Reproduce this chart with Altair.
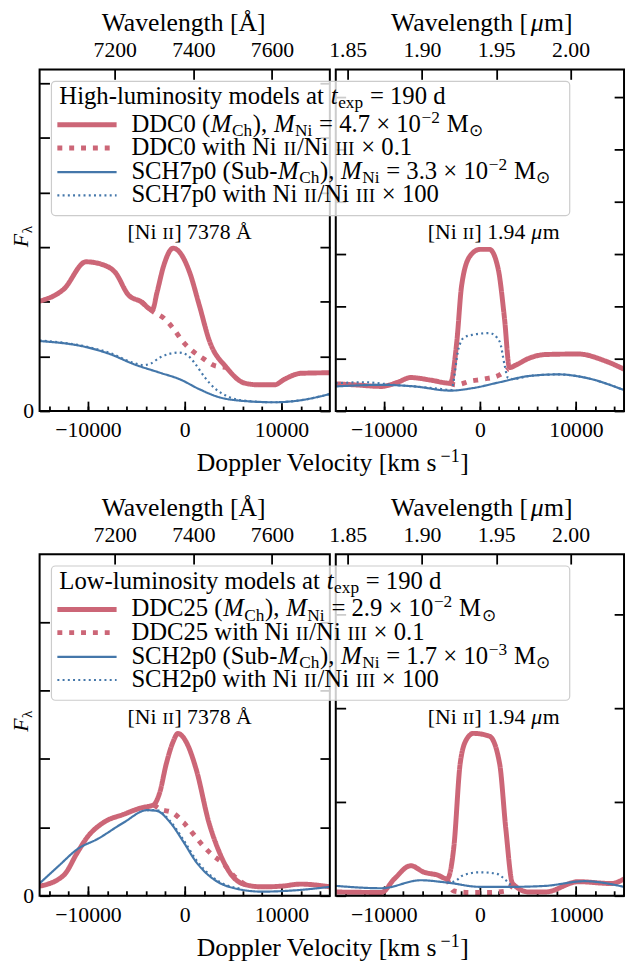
import altair as alt
import pandas as pd

FONT = "Liberation Serif"
RED = "#CC6677"
BLUE = "#4477AA"
C_KMS = 299792.458
VMAX = 15000

# ---------------- data ----------------
# Top-left: [Ni II] 7378 A, high-luminosity models
TL_RS_V = [-15000, -12500, -10200, -8200, -7200, -5800, -4500, -3350, -2850, -2170, -1200, -500, 500, 1500, 2560, 4300, 6200, 7600, 9300, 10300, 12000, 15000]
TL_RS_F = [2.01, 2.23, 2.73, 2.66, 2.54, 2.12, 2.00, 1.85, 2.18, 2.66, 2.98, 2.90, 2.54, 1.94, 1.28, 0.80, 0.51, 0.48, 0.48, 0.58, 0.69, 0.70]
TL_RD_V = [-4500, -3350, -2100, -1100, -240, 800, 2000, 3100, 4300]
TL_RD_F = [2.00, 1.83, 1.69, 1.49, 1.28, 1.10, 0.95, 0.83, 0.80]
TL_BS_V = [-15000, -10200, -7700, -5300, -2550, -500, 1500, 3600, 5700, 9300, 11700, 15000]
TL_BS_F = [1.28, 1.17, 1.04, 0.86, 0.70, 0.58, 0.40, 0.25, 0.19, 0.16, 0.19, 0.31]
TL_BD_V = [-15000, -10200, -7700, -5300, -4300, -3500, -2550, -1500, -600, 300, 1100, 2100, 3200, 4300, 5700, 9300, 11700, 15000]
TL_BD_F = [1.29, 1.18, 1.06, 0.88, 0.84, 0.87, 0.98, 1.05, 1.07, 1.02, 0.86, 0.61, 0.40, 0.28, 0.20, 0.16, 0.19, 0.31]

# Top-right: [Ni II] 1.94 um, high-luminosity models
TR_RS_V = [-15000, -13000, -10250, -8550, -7200, -5100, -3080, -2400, -1900, -1000, 0, 1000, 1900, 2560, 3080, 3760, 5130, 6840, 10250, 13000, 15000]
TR_RS_F = [0.52, 0.50, 0.47, 0.55, 0.64, 0.59, 0.53, 1.33, 2.40, 2.97, 3.09, 3.09, 2.72, 1.77, 0.83, 0.88, 1.01, 1.08, 1.09, 0.96, 0.80]
TR_RD_V = [-3080, -2500, -1000, 400, 2050, 2900]
TR_RD_F = [0.53, 0.50, 0.57, 0.61, 0.69, 0.80]
TR_BS_V = [-15000, -10250, -6800, -3080, -680, 2050, 5130, 8200, 10900, 15000]
TR_BS_F = [0.47, 0.50, 0.47, 0.39, 0.44, 0.55, 0.67, 0.70, 0.64, 0.40]
TR_BD_V = [-15000, -12000, -9000, -6800, -4000, -3000, -2200, -1700, -700, 1000, 2050, 2560, 2900, 3500, 5130, 8200, 10900, 15000]
TR_BD_F = [0.53, 0.55, 0.50, 0.47, 0.42, 0.40, 1.21, 1.40, 1.46, 1.49, 1.33, 0.89, 0.64, 0.61, 0.67, 0.70, 0.64, 0.40]

# Bottom-left: [Ni II] 7378 A, low-luminosity models
BL_RS_V = [-15000, -12500, -11100, -10100, -8400, -6300, -4600, -3200, -2600, -1900, -1200, -700, 140, 1200, 2500, 3600, 4600, 6300, 8000, 10000, 12000, 15000]
BL_RS_F = [0.14, 0.30, 0.63, 0.85, 1.07, 1.19, 1.28, 1.33, 1.50, 1.93, 2.25, 2.37, 2.25, 1.84, 1.07, 0.63, 0.35, 0.16, 0.13, 0.14, 0.17, 0.13]
BL_RD_V = [-3200, -2600, -1200, -120, 900, 1900, 2900, 4000, 5000, 6300]
BL_RD_F = [1.33, 1.27, 1.21, 1.07, 0.90, 0.73, 0.59, 0.47, 0.30, 0.16]
BL_BS_V = [-15000, -13000, -11100, -9000, -6300, -3900, -2900, -1500, -100, 1200, 2900, 4600, 8000, 11500, 15000]
BL_BS_F = [0.18, 0.44, 0.68, 0.83, 1.07, 1.25, 1.24, 1.07, 0.78, 0.49, 0.25, 0.13, 0.06, 0.08, 0.13]
BL_BD_V = [-3900, -2900, -1500, -100, 1200, 2900, 4600, 6000]
BL_BD_F = [1.25, 1.25, 1.09, 0.81, 0.52, 0.27, 0.14, 0.10]

# Bottom-right: [Ni II] 1.94 um, low-luminosity models
BR_RS_V = [-15000, -10250, -8900, -7200, -5800, -4400, -3400, -2700, -2050, -1370, -680, 1000, 2050, 2700, 3400, 5100, 6800, 10250, 13700, 15000]
BR_RS_F = [0.04, 0.035, 0.18, 0.32, 0.25, 0.22, 0.18, 0.53, 1.41, 1.67, 1.73, 1.70, 1.41, 0.71, 0.13, 0.04, 0.04, 0.15, 0.13, 0.18]
BR_RD_V = [-3400, -2700, -1000, 1000, 2700, 3400]
BR_RD_F = [0.18, 0.05, 0.035, 0.035, 0.05, 0.13]
BR_BS_V = [-15000, -10250, -6150, -3400, 0, 3400, 6800, 10900, 15000]
BR_BS_F = [0.105, 0.08, 0.165, 0.14, 0.095, 0.095, 0.105, 0.155, 0.095]
BR_BD_V = [-3400, -2700, -1700, 0, 1700, 2700, 3400]
BR_BD_F = [0.14, 0.15, 0.22, 0.25, 0.235, 0.165, 0.095]

# axis ranges / ticks
Y_MAX = {"TL": 6.25, "TR": 6.53, "BL": 4.99, "BR": 3.64}
Y_NT = {"TL": 6, "TR": 6, "BL": 5, "BR": 3}
LAM0_OPT = 7378.0
LAM0_NIR = 1.939
TICKS_OPT = [7200, 7400, 7600]
TICKS_NIR = [1.85, 1.90, 1.95, 2.00]
V_MAJOR = [-10000, 0, 10000]
V_MINOR = list(range(-14000, 15000, 2000))

W_L, W_R, H = 294, 292, 346

# ---------------- text helpers ----------------
NW = {' ': 250, '[': 333, ']': 333, '(': 333, ')': 333, ',': 250, '.': 250, '-': 333, '/': 278,
      '=': 564, '×': 564, '−': 564, 'Å': 722, 'λ': 500, 'μ': 540, '⊙': 840}
for d in '0123456789':
    NW[d] = 500
NW.update({'A': 722, 'B': 667, 'C': 667, 'D': 722, 'E': 611, 'F': 556, 'G': 722, 'H': 722, 'I': 333,
           'J': 389, 'K': 722, 'L': 611, 'M': 889, 'N': 722, 'O': 722, 'P': 556, 'Q': 722, 'R': 667,
           'S': 556, 'T': 611, 'U': 722, 'V': 722, 'W': 944, 'X': 722, 'Y': 722, 'Z': 611,
           'a': 444, 'b': 500, 'c': 444, 'd': 500, 'e': 444, 'f': 333, 'g': 500, 'h': 500, 'i': 278,
           'j': 278, 'k': 500, 'l': 278, 'm': 778, 'n': 500, 'o': 500, 'p': 500, 'q': 500, 'r': 333,
           's': 389, 't': 278, 'u': 500, 'v': 500, 'w': 722, 'x': 500, 'y': 500, 'z': 444})
IW = {'M': 833, 't': 278, 'F': 611, 'μ': 500}

STY = {'n': (1.0, 0.0, False), 'i': (1.0, 0.0, True), 'sub': (0.7, 0.18, False),
       'sup': (0.7, -0.36, False), 'sc': (0.78, 0.0, False)}
GAP = 0.6  # small extra advance between segments (px)


def twidth(s, size, italic=False):
    tot = 0
    for ch in s:
        tot += IW[ch] if (italic and ch in IW) else NW.get(ch, 500)
    return tot * size / 1000.0


def seg_total(segs, S):
    return sum(twidth(t, STY[st][0] * S, STY[st][2]) + GAP for t, st in segs) - GAP


def segments(segs, x0, yb, S, angle=0, anchor='left'):
    total = seg_total(segs, S)
    if anchor == 'center':
        if angle == 0:
            x0 = x0 - total / 2.0
        else:
            yb = yb + total / 2.0
    rows, pos = [], 0.0
    for t, st in segs:
        k, dy, it = STY[st]
        sz = k * S
        core = t.strip(' ')
        lead = len(t) - len(t.lstrip(' '))
        trail = len(t) - len(t.rstrip(' '))
        pos += lead * NW[' '] * sz / 1000.0
        if core:
            if angle == 0:
                rows.append(dict(px=x0 + pos, py=yb + dy * S, text=core, size=sz, it=it, ang=0))
            else:
                rows.append(dict(px=x0 + dy * S, py=yb - pos, text=core, size=sz, it=it, ang=270))
            pos += twidth(core, sz, it)
            pos += trail * NW[' '] * sz / 1000.0
        pos += GAP
    return rows


def text_layers(rows):
    df = pd.DataFrame(rows)
    out = []
    for it in (False, True):
        sub = df[df['it'] == it].drop(columns=['it'])
        if len(sub) == 0:
            continue
        out.append(alt.Chart(sub).mark_text(font=FONT, fontStyle='italic' if it else 'normal',
                                            align='left', baseline='alphabetic', color='black').encode(
            x=alt.X('px:Q', scale=None, axis=None),
            y=alt.Y('py:Q', scale=None, axis=None),
            text='text:N',
            size=alt.Size('size:Q', scale=None, legend=None),
            angle=alt.Angle('ang:Q', scale=None, legend=None)))
    return out


KEYS = ['rs', 'rd', 'bs', 'bd']
STYLE = dict(
    color=alt.Color('k:N', scale=alt.Scale(domain=KEYS, range=[RED, RED, BLUE, BLUE]), legend=None),
    strokeDash=alt.StrokeDash('k:N', scale=alt.Scale(type='ordinal', domain=KEYS,
                                                     range=[[1, 0], [5, 7], [1, 0], [2, 3.3]]), legend=None),
    strokeWidth=alt.StrokeWidth('k:N', scale=alt.Scale(type='ordinal', domain=KEYS,
                                                       range=[5, 5, 2.2, 2.2]), legend=None),
)


def tick_axis(n, **kw):
    d = dict(tickSize=n, offset=-n, domain=False, grid=False, ticks=True, tickColor='black', tickWidth=1.8,
             labelFont=FONT, labelFontSize=22, labelColor='black', labelFlush=False, labelOverlap=False,
             title=None)
    d.update(kw)
    return alt.Axis(**d)


ONE = pd.DataFrame({'z': [0]})


def make_panel(series, ymax, nt, lam0, lam_ticks, lam_fmt, W, rows, legend_layers=(), zero_label=True):
    recs = []
    for key, (vs, fs) in series.items():
        for v, f in zip(vs, fs):
            recs.append({'v': v, 'f': f, 'k': key})
    df = pd.DataFrame(recs)
    xs = alt.Scale(domain=[-VMAX, VMAX], nice=False, zero=False)
    ys = alt.Scale(domain=[0, ymax], nice=False, zero=False)
    yvals = list(range(0, nt + 1))
    lab_expr = "datum.value == 0 ? '0' : ''" if zero_label else "''"
    lines = alt.Chart(df).mark_line(clip=True, interpolate='monotone').encode(
        x=alt.X('v:Q', scale=xs, axis=tick_axis(10, orient='bottom', values=V_MAJOR, format='d', labelPadding=9)),
        y=alt.Y('f:Q', scale=ys, axis=tick_axis(10, orient='left', values=yvals,
                                                 labelExpr=lab_expr, labelPadding=6)),
        detail='k:N', **STYLE)
    dom = pd.DataFrame({'v': [-VMAX, VMAX], 'f': [0, ymax]})
    minor = alt.Chart(dom).mark_point(opacity=0, size=1).encode(
        x=alt.X('v:Q', scale=xs, axis=tick_axis(5, orient='bottom', values=V_MINOR, labels=False)),
        y=alt.Y('f:Q', scale=ys, axis=tick_axis(10, orient='right', values=yvals, labels=False)))
    lo, hi = lam0 * (1 - VMAX / C_KMS), lam0 * (1 + VMAX / C_KMS)
    ldf = pd.DataFrame({'lam': [lo, hi]})
    top = alt.Chart(ldf).mark_point(opacity=0, size=1).encode(
        x=alt.X('lam:Q', scale=alt.Scale(domain=[lo, hi], nice=False, zero=False),
                axis=tick_axis(10, orient='top', values=lam_ticks, format=lam_fmt, labelPadding=8)))
    frame = alt.Chart(ONE).mark_rect(fillOpacity=0, stroke='black', strokeWidth=2).encode(
        x=alt.value(0), x2=alt.value(W), y=alt.value(0), y2=alt.value(H))
    layers = [lines, frame, minor, top] + text_layers(rows) + list(legend_layers)
    return alt.layer(*layers).resolve_scale(x='independent', y='independent').resolve_axis(
        x='independent', y='independent').properties(width=W, height=H)


def legend(title_segs, row_segs):
    box = alt.Chart(ONE).mark_rect(fill='white', fillOpacity=0.8, stroke='#cccccc', strokeWidth=1.2,
                                   cornerRadius=4).encode(
        x=alt.value(-288), x2=alt.value(237), y=alt.value(12), y2=alt.value(148))
    ycs = [56, 79.5, 104, 127.5]
    sdf = pd.DataFrame({'x1': [-282] * 4, 'x2': [-222] * 4, 'y': ycs, 'k': KEYS})
    samples = alt.Chart(sdf).mark_rule().encode(
        x=alt.X('x1:Q', scale=None, axis=None), x2='x2:Q', y=alt.Y('y:Q', scale=None, axis=None), **STYLE)
    rows = segments(title_segs, -280, 35, 25)
    for yc, segs in zip(ycs, row_segs):
        rows += segments(segs, -207, yc + 7, 25)
    return [box, samples] + text_layers(rows)


def axis_texts_left(annot):
    rows = segments([("Wavelength [Å]", 'n')], W_L / 2, -39, 26, anchor='center')
    rows += segments(annot, 152, 172, 22, anchor='center')
    rows += segments([("F", 'i'), ("λ", 'sub')], -12, 180, 22, angle=270)
    rows += segments([("Doppler Velocity [km s", 'n'), ("−1", 'sup'), ("]", 'n')], W_L + 3, H + 61, 26,
                     anchor='center')
    return rows


def axis_texts_right(annot):
    rows = segments([("Wavelength [", 'n'), ("μ", 'i'), ("m]", 'n')], W_R / 2 + 2, -39, 26, anchor='center')
    rows += segments(annot, 160, 172, 22, anchor='center')
    return rows


ANN_OPT = [("[Ni ", 'n'), ("II", 'sc'), ("] 7378 Å", 'n')]
ANN_NIR = [("[Ni ", 'n'), ("II", 'sc'), ("] 1.94 ", 'n'), ("μ", 'i'), ("m", 'n')]


def leg_rows(m1, m2, val1, val2, exp1, exp2):
    return [
        [(m1 + " (", 'n'), ("M", 'i'), ("Ch", 'sub'), ("), ", 'n'), ("M", 'i'), ("Ni", 'sub'),
         (" = " + val1 + " × 10", 'n'), (exp1, 'sup'), (" M", 'n'), ("⊙", 'sub')],
        [(m1 + " with Ni ", 'n'), ("II", 'sc'), ("/Ni ", 'n'), ("III", 'sc'), (" × 0.1", 'n')],
        [(m2 + " (Sub-", 'n'), ("M", 'i'), ("Ch", 'sub'), ("), ", 'n'), ("M", 'i'), ("Ni", 'sub'),
         (" = " + val2 + " × 10", 'n'), (exp2, 'sup'), (" M", 'n'), ("⊙", 'sub')],
        [(m2 + " with Ni ", 'n'), ("II", 'sc'), ("/Ni ", 'n'), ("III", 'sc'), (" × 100", 'n')],
    ]


LEG_HI = legend([("High-luminosity models at ", 'n'), ("t", 'i'), ("exp", 'sub'), (" = 190 d", 'n')],
                leg_rows("DDC0", "SCH7p0", "4.7", "3.3", "−2", "−2"))
LEG_LO = legend([("Low-luminosity models at ", 'n'), ("t", 'i'), ("exp", 'sub'), (" = 190 d", 'n')],
                leg_rows("DDC25", "SCH2p0", "2.9", "1.7", "−2", "−3"))

p_tl = make_panel({'rs': (TL_RS_V, TL_RS_F), 'rd': (TL_RD_V, TL_RD_F), 'bs': (TL_BS_V, TL_BS_F), 'bd': (TL_BD_V, TL_BD_F)},
                  Y_MAX["TL"], Y_NT["TL"], LAM0_OPT, TICKS_OPT, 'd', W_L, axis_texts_left(ANN_OPT))
p_tr = make_panel({'rs': (TR_RS_V, TR_RS_F), 'rd': (TR_RD_V, TR_RD_F), 'bs': (TR_BS_V, TR_BS_F), 'bd': (TR_BD_V, TR_BD_F)},
                  Y_MAX["TR"], Y_NT["TR"], LAM0_NIR, TICKS_NIR, '.2f', W_R, axis_texts_right(ANN_NIR), LEG_HI,
                  zero_label=False)
p_bl = make_panel({'rs': (BL_RS_V, BL_RS_F), 'rd': (BL_RD_V, BL_RD_F), 'bs': (BL_BS_V, BL_BS_F), 'bd': (BL_BD_V, BL_BD_F)},
                  Y_MAX["BL"], Y_NT["BL"], LAM0_OPT, TICKS_OPT, 'd', W_L, axis_texts_left(ANN_OPT))
p_br = make_panel({'rs': (BR_RS_V, BR_RS_F), 'rd': (BR_RD_V, BR_RD_F), 'bs': (BR_BS_V, BR_BS_F), 'bd': (BR_BD_V, BR_BD_F)},
                  Y_MAX["BR"], Y_NT["BR"], LAM0_NIR, TICKS_NIR, '.2f', W_R, axis_texts_right(ANN_NIR), LEG_LO,
                  zero_label=False)

# fixed origin: the top-left plot area sits at page (40, 64); page margin is 8px
chart = alt.concat(p_tl, p_tr, p_bl, p_br, columns=2, spacing={'row': 145, 'column': 6}, bounds='flush').properties(
    autosize=alt.AutoSizeParams(type='none'),
    padding={'left': 32, 'top': 56, 'right': 594, 'bottom': 907}
).configure_view(strokeWidth=0).configure(background='white')

chart.save("out.html", embed_options={"renderer": "svg", "actions": False})
